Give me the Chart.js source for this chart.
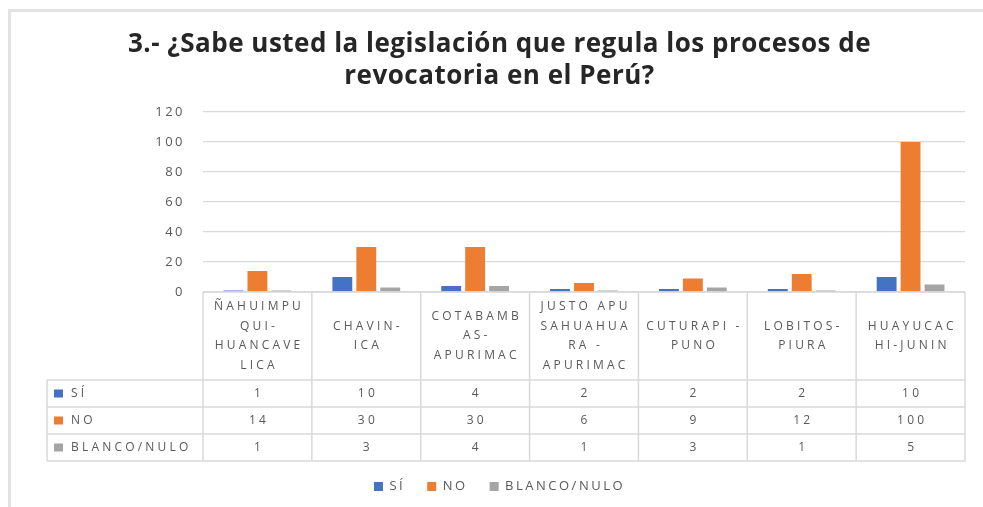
<!DOCTYPE html>
<html>
<head>
<meta charset="utf-8">
<script src="https://cdn.jsdelivr.net/npm/chart.js@4.4.1/dist/chart.umd.min.js"></script>
<style>
  html, body { margin: 0; padding: 0; background: #fff; }
  #wrap { position: relative; width: 983px; height: 507px; overflow: hidden; }
  #frame { position: absolute; left: 8px; top: 9px; right: 0; bottom: 0;
           border-top: 3px solid #e2e2e2; border-left: 3px solid #e2e2e2; }
  canvas { position: absolute; left: 0; top: 0; }
</style>
</head>
<body>
<div id="wrap">
  <div id="frame"></div>
  <canvas id="chart" width="983" height="507"></canvas>
</div>
<script>
  const categories = [
    ['ÑAHUIMPU', 'QUI-', 'HUANCAVE', 'LICA'],
    ['CHAVIN-', 'ICA'],
    ['COTABAMB', 'AS-', 'APURIMAC'],
    ['JUSTO APU', 'SAHUAHUA', 'RA -', 'APURIMAC'],
    ['CUTURAPI -', 'PUNO'],
    ['LOBITOS-', 'PIURA'],
    ['HUAYUCAC', 'HI-JUNIN']
  ];
  const siValues = [1, 10, 4, 2, 2, 2, 10];
  const noValues = [14, 30, 30, 6, 9, 12, 100];
  const blancoValues = [1, 3, 4, 1, 3, 1, 5];
  const seriesNames = ['SÍ', 'NO', 'BLANCO/NULO'];
  const seriesColors = ['#4472C4', '#ED7D31', '#A5A5A5'];
  const yTicks = [0, 20, 40, 60, 80, 100, 120];
  const titleLines = ['3.- ¿Sabe usted la legislación que regula los procesos de', 'revocatoria en el Perú?'];

  const seriesValues = [siValues, noValues, blancoValues];
  const textGray = '#595959';
  const lineGray = '#d9d9d9';
  const wideSpacing = '2.5px';

  // the source picture is stretched sideways, so small text gets extra spacing
  const spacing = {
    id: 'spacing',
    beforeLayout(chart) { chart.ctx.letterSpacing = wideSpacing; },
    beforeDraw(chart) { chart.ctx.letterSpacing = wideSpacing; }
  };

  // data table under the plot, aligned to the x scale
  const dataTable = {
    id: 'dataTable',
    afterDraw(chart) {
      const { ctx, chartArea } = chart;
      const xs = chart.scales.x;
      const n = categories.length;
      const colW = (chartArea.right - chartArea.left) / n;
      const top = chartArea.bottom;
      const headH = 88, rowH = 27;
      const legendLeft = 47;
      const bottom = top + headH + rowH * seriesNames.length;
      const ls = 3.2;

      ctx.save();
      ctx.strokeStyle = lineGray;
      ctx.lineWidth = 1.5;
      ctx.beginPath();
      ctx.moveTo(chartArea.left, top);
      ctx.lineTo(chartArea.right, top);
      for (let r = 0; r <= seriesNames.length; r++) {
        const y = top + headH + r * rowH;
        ctx.moveTo(legendLeft, y);
        ctx.lineTo(chartArea.right, y);
      }
      for (let i = 0; i <= n; i++) {
        const x = chartArea.left + i * colW;
        ctx.moveTo(x, top);
        ctx.lineTo(x, bottom);
      }
      ctx.moveTo(legendLeft, top + headH);
      ctx.lineTo(legendLeft, bottom);
      ctx.stroke();

      ctx.fillStyle = textGray;
      ctx.font = '12px "Open Sans"';
      ctx.textBaseline = 'middle';
      ctx.textAlign = 'center';
      ctx.letterSpacing = ls + 'px';
      categories.forEach((lines, i) => {
        const cx = xs.getPixelForValue(i) + ls / 2;
        const lh = 19.7;
        const y0 = top + headH / 2 - (lines.length - 1) * lh / 2;
        lines.forEach((t, k) => ctx.fillText(t, cx, y0 + k * lh));
      });

      seriesNames.forEach((name, r) => {
        const cy = top + headH + rowH * (r + 0.5);
        ctx.fillStyle = seriesColors[r];
        ctx.fillRect(54, cy - 4, 9, 8);
        ctx.fillStyle = textGray;
        ctx.textAlign = 'left';
        ctx.fillText(name, 71, cy);
        ctx.textAlign = 'center';
        seriesValues[r].forEach((v, i) => {
          ctx.fillText(String(v), xs.getPixelForValue(i) + ls / 2, cy);
        });
      });
      ctx.restore();
    }
  };

  const ctx = document.getElementById('chart').getContext('2d');
  const chart = new Chart(ctx, {
    type: 'bar',
    data: {
      labels: categories,
      datasets: seriesNames.map((name, i) => ({
        label: name,
        data: seriesValues[i],
        backgroundColor: seriesColors[i],
        barPercentage: 0.83,
        categoryPercentage: 0.66
      }))
    },
    options: {
      responsive: false,
      animation: false,
      layout: { padding: { left: 34, right: 18, top: 0, bottom: 4 } },
      plugins: {
        title: {
          display: true,
          text: titleLines,
          color: '#262626',
          font: { family: 'Open Sans', size: 26, weight: 'bold', lineHeight: 1.25 },
          padding: { top: 28, bottom: 19 }
        },
        legend: {
          position: 'bottom',
          labels: {
            color: textGray,
            boxWidth: 9,
            boxHeight: 9,
            padding: 22,
            font: { family: 'Open Sans', size: 13 }
          }
        },
        tooltip: { enabled: false }
      },
      scales: {
        x: {
          grid: { display: false },
          border: { display: false },
          ticks: { display: false },
          afterFit(s) { s.height = 166; }
        },
        y: {
          min: 0,
          max: 120,
          afterBuildTicks(s) { s.ticks = yTicks.map(v => ({ value: v })); },
          grid: { color: lineGray, lineWidth: 1.3, drawTicks: false },
          border: { display: false },
          ticks: { color: textGray, padding: 18, font: { family: 'Open Sans', size: 13 } },
          afterFit(s) { s.width = 169; }
        }
      }
    },
    plugins: [spacing, dataTable]
  });

  // the title keeps near-normal spacing
  const titleBox = chart.titleBlock;
  const drawTitle = titleBox.draw.bind(titleBox);
  titleBox.draw = function () {
    chart.ctx.save();
    chart.ctx.letterSpacing = '0.5px';
    drawTitle();
    chart.ctx.restore();
  };
  chart.draw();
</script>
</body>
</html>
